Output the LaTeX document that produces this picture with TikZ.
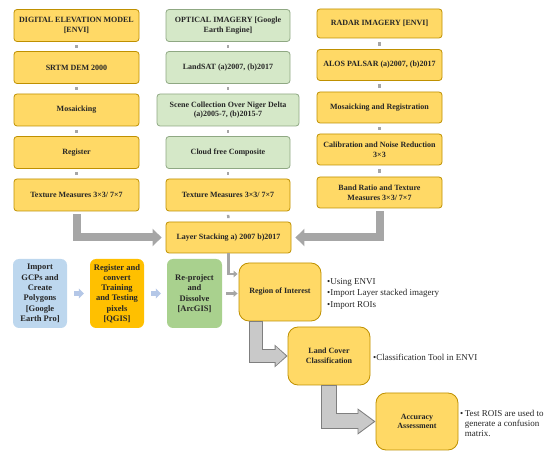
\documentclass[tikz,border=0pt]{standalone}
\usepackage{fontspec}
\setmainfont{Liberation Serif}
\usetikzlibrary{arrows.meta}

\definecolor{yfill}{HTML}{FFD966}
\definecolor{ybord}{HTML}{BF9000}
\definecolor{gfill}{HTML}{D5E8C8}
\definecolor{gbord}{HTML}{8FA883}
\definecolor{bluebox}{HTML}{BDD7EE}
\definecolor{orangebox}{HTML}{FFC000}
\definecolor{greenbox}{HTML}{A9D18E}
\definecolor{arrowgray}{HTML}{A6A6A6}
\definecolor{blockfill}{HTML}{C9C9C9}
\definecolor{blockedge}{HTML}{7F7F7F}
\definecolor{lightblue}{HTML}{B4C7E7}

\begin{document}
\begin{tikzpicture}
[x=1pt,y=-1pt,
every node/.style={align=center,font=\fontsize{8}{9.6}\selectfont\bfseries,inner sep=1pt,text=black!85},
ybox/.style={shape=rectangle,rounded corners=3pt,draw=ybord,fill=yfill,line width=0.8pt,minimum width=125pt,minimum height=32pt},
gbox/.style={ybox,draw=gbord,fill=gfill,minimum width=124pt},
rbox/.style={ybox,minimum height=31pt},
lowbox/.style={shape=rectangle,rounded corners=6pt,minimum width=54pt,minimum height=69pt,font=\fontsize{8.5}{10.3}\selectfont\bfseries},
stepbox/.style={ybox,rounded corners=10pt,minimum width=82pt,minimum height=58pt},
note/.style={anchor=west,align=left,font=\fontsize{9}{11.5}\selectfont},
tinylink/.style={draw=arrowgray,line width=2.5pt,shorten <=3.5pt,shorten >=3.5pt},
bigarrow/.style={draw=arrowgray,line width=8pt,-{Triangle[length=9pt,width=17pt]},shorten >=4pt,shorten <=3pt},
thinarrow/.style={draw=arrowgray,line width=2.5pt,-{Triangle[length=4pt,width=6.5pt]},shorten >=1pt},
bluearrow/.style={draw=lightblue,line width=5pt,-{Triangle[length=5pt,width=10pt]},shorten <=7pt,shorten >=6pt}]

\useasboundingbox (0,0) rectangle (550,457);

% digital elevation model
\node[ybox] (dem) at (76.5,25.5) {DIGITAL ELEVATION MODEL\\{[ENVI]}};
\node[ybox] (srtm) at (76.5,67.5) {SRTM DEM 2000};
\node[ybox] (mosaic) at (76.5,110) {Mosaicking};
\node[ybox] (register) at (76.5,152.5) {Register};
\node[ybox] (texdem) at (76.5,195) {Texture Measures 3×3/ 7×7};

% optical imagery
\node[gbox] (optical) at (228,25.5) {OPTICAL IMAGERY [Google\\Earth Engine]};
\node[gbox] (landsat) at (228,67.5) {LandSAT (a)2007, (b)2017};
\node[gbox,minimum width=142pt] (scene) at (228,110) {Scene Collection Over Niger Delta\\(a)2005-7, (b)2015-7};
\node[gbox] (cloud) at (228,152.5) {Cloud free Composite};
\node[ybox,minimum width=124pt] (texopt) at (228,195) {Texture Measures 3×3/ 7×7};

% radar imagery
\node[rbox,minimum height=29pt] (radar) at (379.5,23.5) {RADAR IMAGERY [ENVI]};
\node[rbox] (palsar) at (379.5,65) {ALOS PALSAR (a)2007, (b)2017};
\node[rbox] (mosreg) at (379.5,107.5) {Mosaicking and Registration};
\node[rbox] (calib) at (379.5,149.5) {Calibration and Noise Reduction\\3×3};
\node[rbox] (band) at (379.5,192.5) {Band Ratio and Texture\\Measures 3×3/ 7×7};

\node[rbox] (stack) at (228.5,237.5) {Layer Stacking a) 2007 b)2017};

% training data
\node[lowbox,fill=bluebox] (gcp) at (40,293.5) {Import\\GCPs and\\Create\\Polygons\\{[Google}\\Earth Pro]};
\node[lowbox,fill=orangebox] (qgis) at (117,293.5) {Register and\\convert\\Training\\and Testing\\pixels\\{[QGIS]}};
\node[lowbox,fill=greenbox,minimum width=55pt] (arcgis) at (194.5,293.5) {Re-project\\and\\Dissolve\\{[ArcGIS]}};

\node[stepbox] (roi) at (280,292) {Region of Interest};
\node[stepbox] (landcover) at (329,356) {Land Cover\\Classification};
\node[stepbox,minimum height=57pt] (accuracy) at (417,421.5) {Accuracy\\Assessment};

\node[note] (roinote) at (326,293.5) {•Using ENVI\\•Import Layer stacked imagery\\•Import ROIs};
\node[note] (lcnote) at (372,357) {•Classification Tool in ENVI};
\node[note,font=\fontsize{9}{10}\selectfont] (accnote) at (459,423) {•\,Test ROIS are used to\\\phantom{•\,}generate a confusion\\\phantom{•\,}matrix.};

% small links in the columns
\foreach \a/\b in {dem/srtm,srtm/mosaic,mosaic/register,register/texdem,
  optical/landsat,landsat/scene,scene/cloud,cloud/texopt,texopt/stack,
  radar/palsar,palsar/mosreg,mosreg/calib,calib/band}
  \draw[tinylink] (\a) -- (\b);

\draw[bigarrow] (texdem.south) |- (stack.west);
\draw[bigarrow] (band.south) |- (stack.east);

\draw[thinarrow] (stack.south) |- ([yshift=18pt]roi.west);
\draw[thinarrow,shorten <=4pt] (arcgis.east) -- (arcgis.east -| roi.west);

\draw[bluearrow] (gcp.east) -- (qgis.west);
\draw[bluearrow] (qgis.east) -- (arcgis.west);

% block arrows
\draw[draw=blockedge,line width=14pt,-{Triangle[length=13pt,width=22pt]}] ([xshift=-24.5pt]roi.south) |- (landcover.west);
\draw[draw=blockfill,line width=12pt,-{Triangle[length=10.4pt,width=18.5pt]},shorten >=1.6pt,shorten <=0.5pt] ([xshift=-24.5pt]roi.south) |- (landcover.west);
\draw[draw=blockedge,line width=16pt,-{Triangle[length=18pt,width=25pt]}] (landcover.south) |- (accuracy.west);
\draw[draw=blockfill,line width=14pt,-{Triangle[length=15.4pt,width=21.5pt]},shorten >=1.8pt,shorten <=0.5pt] (landcover.south) |- (accuracy.west);
\end{tikzpicture}
\end{document}
